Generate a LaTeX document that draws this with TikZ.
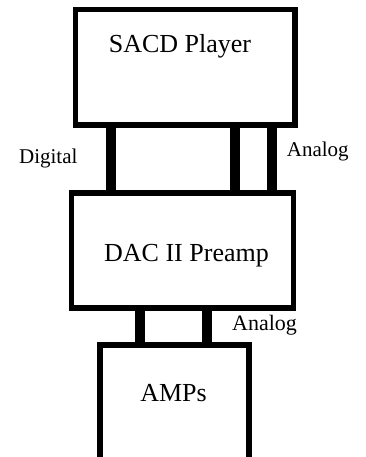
\documentclass[tikz,border=0pt]{standalone}
\usepackage{fontspec}
\setmainfont{Liberation Serif}
\usetikzlibrary{positioning}

\tikzset{
  unit/.style={draw, line width=5.5pt, inner sep=0pt},
  wire/.style={line width=10pt},
  big/.style={font=\fontsize{26}{30}\selectfont, inner sep=0pt, anchor=base},
  small/.style={font=\fontsize{21}{24}\selectfont, inner sep=0pt, anchor=base}
}

\begin{document}
\begin{tikzpicture}[x=1pt,y=-1pt]
\clip (0,0) rectangle (365,457);
\node [unit, minimum width=219.5pt, minimum height=115.5pt] (sacd) at (185.25,67.3) {};
\node [unit, minimum width=222pt, minimum height=115pt] (dac) at (182.5,250.5) {};
\node [unit, minimum width=149pt, minimum height=160pt] (amps) at (174.5,425) {};
\node [big] (sacdtxt) at (180,53) {SACD Player};
\node [big] (dactxt) at (186.5,261.7) {DAC II Preamp};
\node [big] (ampstxt) at (173.5,401.7) {AMPs};
% links
\draw [wire] ([xshift=-74.25pt]sacd.south) -- ([xshift=-71.5pt]dac.north);
\draw [wire] ([xshift=49.75pt]sacd.south) -- ([xshift=52.5pt]dac.north);
\draw [wire] ([xshift=86.75pt]sacd.south) -- ([xshift=89.5pt]dac.north);
\draw [wire] ([xshift=-42.5pt]dac.south) -- ([xshift=-34.5pt]amps.north);
\draw [wire] ([xshift=24.5pt]dac.south) -- ([xshift=32.5pt]amps.north);
\node [small] (dig) at (48.3,163.3) {Digital};
\node [small] (ana1) at (317.8,156.7) {Analog};
\node [small, font=\fontsize{22}{25}\selectfont] (ana2) at (264.5,330) {Analog};
\end{tikzpicture}
\end{document}
